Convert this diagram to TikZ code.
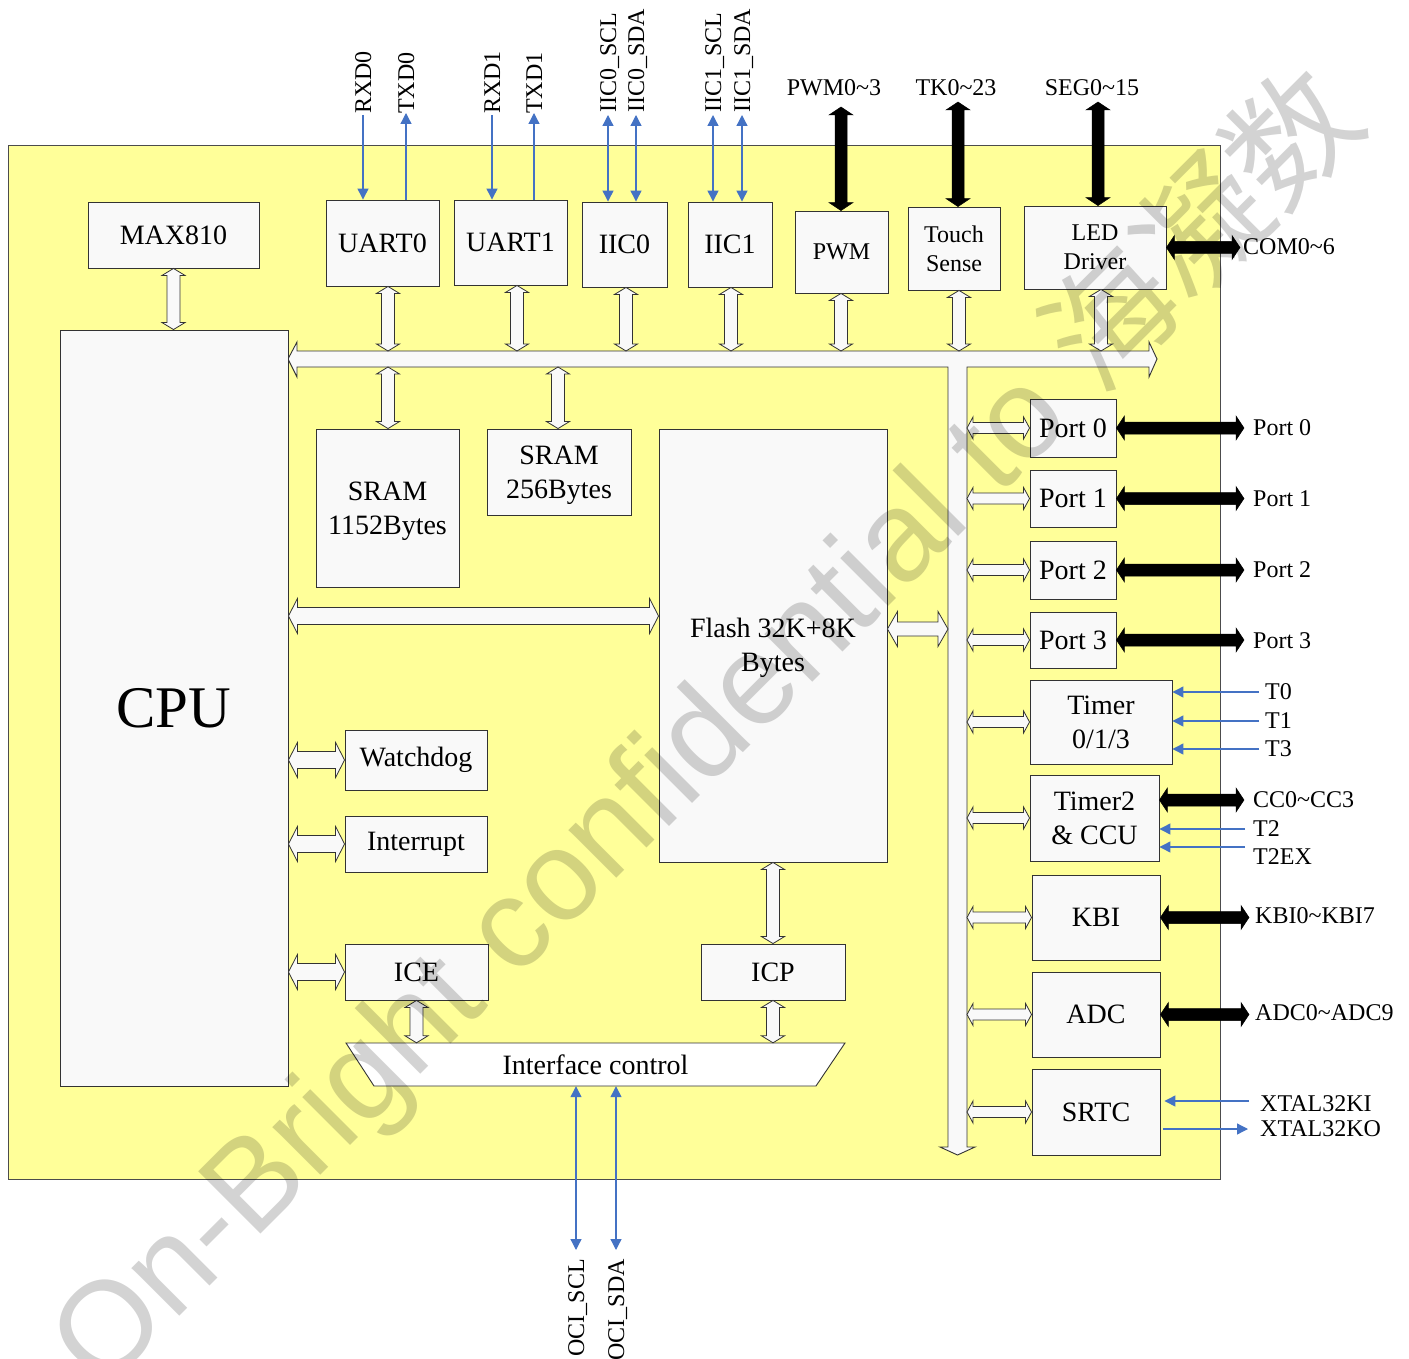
\documentclass[tikz,border=0pt]{standalone}
\usepackage{fontspec}
\setmainfont{Liberation Serif}
\newfontfamily\wmfont{Liberation Sans}
\newfontfamily\cjkfont{Noto Sans CJK SC}
\usetikzlibrary{calc,arrows.meta}
\definecolor{chip}{RGB}{255,255,153}
\definecolor{boxfill}{RGB}{249,249,249}
\definecolor{sigblue}{RGB}{68,114,196}
\definecolor{wmgray}{RGB}{211,211,211}
\def\arrw{6pt}\def\arrh{12pt}\def\arrl{8pt}
\newcommand\highstrut{\rule{0pt}{25pt}}
\tikzset{
  arrw/.store in=\arrw, arrh/.store in=\arrh, arrl/.store in=\arrl,
  blockarrow/.style={to path={
    ($(\tikztostart)!\arrl!(\tikztotarget)$) coordinate (q1)
    ($(\tikztotarget)!\arrl!(\tikztostart)$) coordinate (q2)
    (\tikztostart) -- ($(q1)!\arrh!90:(\tikztotarget)$) -- ($(q1)!\arrw!90:(\tikztotarget)$)
    -- ($(q2)!\arrw!-90:(\tikztostart)$) -- ($(q2)!\arrh!-90:(\tikztostart)$) -- (\tikztotarget)
    -- ($(q2)!\arrh!90:(\tikztostart)$) -- ($(q2)!\arrw!90:(\tikztostart)$)
    -- ($(q1)!\arrw!-90:(\tikztotarget)$) -- ($(q1)!\arrh!-90:(\tikztotarget)$) -- cycle}},
  hol/.style={blockarrow, draw=black!80, fill=boxfill, line width=0.8pt, line join=miter},
  holS/.style={hol, arrw=6.5pt, arrh=11.5pt, arrl=7pt},
  holB/.style={hol, arrw=8.5pt, arrh=17.5pt, arrl=9pt},
  holP/.style={hol, arrw=5.5pt, arrh=11pt, arrl=6pt},
  blk/.style={blockarrow, draw=black, fill=black, line width=0.5pt, arrw=6pt, arrh=12pt, arrl=8pt},
  sigtip/.tip={Triangle[length=11pt,width=11pt]},
  sig/.style={draw=sigblue, line width=1.3pt},
  box/.style={draw=black!80, fill=boxfill, line width=0.9pt, inner sep=0pt, align=center,
    font=\fontsize{28}{34}\selectfont},
  small/.style={font=\fontsize{24}{29}\selectfont},
  lab/.style={inner sep=0pt, font=\fontsize{24}{26}\selectfont},
}
\begin{document}
\begin{tikzpicture}[x=1pt,y=-1pt]
\useasboundingbox (0,0) rectangle (1409,1359);
% chip
\node[draw=black!70, fill=chip, line width=1pt, minimum width=1212pt, minimum height=1033pt, inner sep=0pt] (chip) at (614,662.5) {};
% bus
\draw[line width=0.9pt, draw=black!80, fill=boxfill, line join=miter]
  (288,359) -- (297,342) -- (297,351) -- (1149,351) -- (1149,342) -- (1157,359) -- (1149,377)
  -- (1149,367) -- (967,367) -- (967,1147) -- (975,1147) -- (957.5,1155) -- (940,1147)
  -- (948,1147) -- (948,367) -- (297,367) -- (297,377) -- cycle;
\coordinate (bt) at (0,351); \coordinate (bb) at (0,367);
\coordinate (vl) at (948,0); \coordinate (vr) at (967,0);
% boxes
\node[box, minimum width=171pt, minimum height=66pt] (max) at (173.5,235) {MAX810};
\node[box, minimum width=228pt, minimum height=756pt, font=\fontsize{59}{60}\selectfont] (cpu) at (174,708) {CPU};
\node[box, minimum width=113pt, minimum height=86pt] (uart0) at (382.5,243) {UART0};
\node[box, minimum width=113pt, minimum height=85pt] (uart1) at (510.5,242.5) {UART1};
\node[box, minimum width=85pt, minimum height=85pt] (iic0) at (624.5,244.5) {IIC0};
\node[box, minimum width=84pt, minimum height=85pt] (iic1) at (730,244.5) {IIC1};
\node[box, small, minimum width=93pt, minimum height=82pt] (pwm) at (841.5,252) {PWM};
\node[box, small, minimum width=92pt, minimum height=83pt] (touch) at (954,248.5) {Touch\\Sense};
\node[box, small, minimum width=142pt, minimum height=83pt] (led) at (1095,247.5) {LED\\Driver};
\node[box, minimum width=143pt, minimum height=158pt] (sram1) at (387.5,508) {\highstrut SRAM\\1152Bytes};
\node[box, minimum width=144pt, minimum height=86pt] (sram2) at (559,472) {\highstrut SRAM\\256Bytes};
\node[box, minimum width=228pt, minimum height=433pt] (flash) at (773,645.5) {\highstrut Flash 32K+8K\\Bytes};
\node[box, minimum width=142pt, minimum height=60pt] (wdog) at (416,760) {Watchdog};
\node[box, minimum width=142pt, minimum height=56pt] (intr) at (416,844) {Interrupt};
\node[box, minimum width=143pt, minimum height=56pt] (ice) at (416.5,972) {ICE};
\node[box, minimum width=144pt, minimum height=56pt] (icp) at (773,972) {ICP};
\node[box, minimum width=86pt, minimum height=58pt] (p0) at (1073,428) {Port 0};
\node[box, minimum width=86pt, minimum height=57pt] (p1) at (1073,498.5) {Port 1};
\node[box, minimum width=86pt, minimum height=58pt] (p2) at (1073,570) {Port 2};
\node[box, minimum width=86pt, minimum height=56pt] (p3) at (1073,640) {Port 3};
\node[box, minimum width=142pt, minimum height=84pt] (tmr) at (1101,722) {Timer\\0/1/3};
\node[box, minimum width=129pt, minimum height=86pt] (tmr2) at (1094.5,818) {Timer2\\\& CCU};
\node[box, minimum width=128pt, minimum height=85pt] (kbi) at (1096,917.5) {KBI};
\node[box, minimum width=128pt, minimum height=85pt] (adc) at (1096,1014.5) {ADC};
\node[box, minimum width=128pt, minimum height=86pt] (srtc) at (1096,1112) {SRTC};
% interface control
\draw[line width=0.9pt, draw=black!80, fill=white] (346,1043) -- (845,1043) -- (816,1086) -- (374,1086) -- cycle;
\node[inner sep=0pt, minimum width=499pt, minimum height=43pt, font=\fontsize{28}{34}\selectfont] (ifc) at (595.5,1064.5) {Interface control};
% hollow arrows, top row
\coordinate (xu0) at (388,0); \coordinate (xu1) at (517,0); \coordinate (xi0) at (626,0);
\coordinate (xi1) at (731,0); \coordinate (xpw) at (841,0); \coordinate (xts) at (959,0);
\coordinate (xld) at (1101,0); \coordinate (xs2) at (558,0);
\draw[holS] (max.south) to (max.south |- cpu.north);
\draw[holS] (uart0.south -| xu0) to (xu0 |- bt);
\draw[holS] (uart1.south -| xu1) to (xu1 |- bt);
\draw[holS] (iic0.south -| xi0) to (xi0 |- bt);
\draw[holS] (iic1.south -| xi1) to (xi1 |- bt);
\draw[holS] (pwm.south -| xpw) to (xpw |- bt);
\draw[holS] (touch.south -| xts) to (xts |- bt);
\draw[holS] (led.south -| xld) to (xld |- bt);
\draw[holS] (xu0 |- bb) to (sram1.north -| xu0);
\draw[holS] (xs2 |- bb) to (sram2.north -| xs2);
% hollow arrows, CPU side
\coordinate (yfl) at (0,616); \coordinate (yfr) at (0,629);
\draw[holB] (cpu.east |- yfl) to (flash.west |- yfl);
\draw[holB] (cpu.east |- wdog.west) to (wdog.west);
\draw[holB] (cpu.east |- intr.west) to (intr.west);
\draw[holB] (cpu.east |- ice.west) to (ice.west);
\draw[holB, arrw=7pt, arrl=10pt] (flash.east |- yfr) to (vl |- yfr);
\draw[holS] (flash.south) to (icp.north);
\draw[holS] (ice.south) to (ice.south |- ifc.north);
\draw[holS] (icp.south) to (icp.south |- ifc.north);
% hollow arrows, peripheral side
\foreach \n in {p0,p1,p2,p3,tmr,tmr2,kbi,adc,srtc}
  \draw[holP] (vr |- \n.west) to (\n.west);
% black arrows
\coordinate (pwmt) at (841,107); \coordinate (tkt) at (958,102); \coordinate (segt) at (1098,102);
\coordinate (comt) at (1240,247.5); \coordinate (xpt) at (1244,0); \coordinate (cct) at (1244,800);
\coordinate (xk) at (1249,0);
\draw[blk] (pwmt) to (pwmt |- pwm.north);
\draw[blk] (tkt) to (tkt |- touch.north);
\draw[blk] (segt) to (segt |- led.north);
\draw[blk] (led.east) to (comt);
\foreach \n in {p0,p1,p2,p3}
  \draw[blk] (\n.east) to (\n.east -| xpt);
\draw[blk] (tmr2.east |- cct) to (cct);
\draw[blk] (kbi.east) to (kbi.east -| xk);
\draw[blk] (adc.east) to (adc.east -| xk);
% blue signals, top
\coordinate (rxd0) at (363,115); \coordinate (txd0) at (406,113);
\coordinate (rxd1) at (492,115); \coordinate (txd1) at (534,113);
\coordinate (scl0) at (608,115); \coordinate (sda0) at (636,115);
\coordinate (scl1) at (713,115); \coordinate (sda1) at (742,115);
\draw[sig,-sigtip] (rxd0) -- (rxd0 |- uart0.north);
\draw[sig,-sigtip] (txd0 |- uart0.north) -- (txd0);
\draw[sig,-sigtip] (rxd1) -- (rxd1 |- uart1.north);
\draw[sig,-sigtip] (txd1 |- uart1.north) -- (txd1);
\draw[sig,sigtip-sigtip] (scl0) -- (scl0 |- iic0.north);
\draw[sig,sigtip-sigtip] (sda0) -- (sda0 |- iic0.north);
\draw[sig,sigtip-sigtip] (scl1) -- (scl1 |- iic1.north);
\draw[sig,sigtip-sigtip] (sda1) -- (sda1 |- iic1.north);
% blue signals, right
\coordinate (t0) at (1259,692); \coordinate (t1) at (1259,721); \coordinate (t3) at (1259,749);
\coordinate (t2) at (1245,829); \coordinate (t2ex) at (1245,847);
\coordinate (xki) at (1249,1101); \coordinate (xko) at (1248,1129);
\draw[sig,-sigtip] (t0) -- (t0 -| tmr.east);
\draw[sig,-sigtip] (t1) -- (t1 -| tmr.east);
\draw[sig,-sigtip] (t3) -- (t3 -| tmr.east);
\draw[sig,-sigtip] (t2) -- (t2 -| tmr2.east);
\draw[sig,-sigtip] (t2ex) -- (t2ex -| tmr2.east);
\draw[sig,-sigtip] (xki) -- ([xshift=4pt]xki -| srtc.east);
\draw[sig,-sigtip] ([xshift=3pt]xko -| srtc.east) -- (xko);
% blue signals, bottom
\coordinate (oscl) at (576,1250); \coordinate (osda) at (616,1250);
\draw[sig,sigtip-sigtip] (oscl |- ifc.south) -- (oscl);
\draw[sig,sigtip-sigtip] (osda |- ifc.south) -- (osda);
% labels
\node[lab, rotate=90, anchor=base west] (l-rxd0) at ($(rxd0)+(8,-1)$) {RXD0};
\node[lab, rotate=90, anchor=base west] (l-txd0) at ($(txd0)+(8,1)$) {TXD0};
\node[lab, rotate=90, anchor=base west] (l-rxd1) at ($(rxd1)+(8,-1)$) {RXD1};
\node[lab, rotate=90, anchor=base west] (l-txd1) at ($(txd1)+(8,1)$) {TXD1};
\node[lab, rotate=90, anchor=base west] (l-scl0) at ($(scl0)+(8,-2)$) {IIC0\_SCL};
\node[lab, rotate=90, anchor=base west] (l-sda0) at ($(sda0)+(8,-2)$) {IIC0\_SDA};
\node[lab, rotate=90, anchor=base west] (l-scl1) at ($(scl1)+(8,-2)$) {IIC1\_SCL};
\node[lab, rotate=90, anchor=base west] (l-sda1) at ($(sda1)+(8,-2)$) {IIC1\_SDA};
\node[lab, rotate=90, anchor=base east] (l-oscl) at ($(oscl)+(8,9)$) {OCI\_SCL};
\node[lab, rotate=90, anchor=base east] (l-osda) at ($(osda)+(8,9)$) {OCI\_SDA};
\node[lab] (l-pwm) at (834,88) {PWM0\textasciitilde 3};
\node[lab] (l-tk) at (956,88) {TK0\textasciitilde 23};
\node[lab] (l-seg) at (1092,88) {SEG0\textasciitilde 15};
\node[lab, anchor=west] (l-com) at (1243,247) {COM0\textasciitilde 6};
\node[lab, anchor=west] (l-p0) at (1253,428) {Port 0};
\node[lab, anchor=west] (l-p1) at (1253,499) {Port 1};
\node[lab, anchor=west] (l-p2) at (1253,570) {Port 2};
\node[lab, anchor=west] (l-p3) at (1253,641) {Port 3};
\node[lab, anchor=west] (l-t0) at (1265,692) {T0};
\node[lab, anchor=west] (l-t1) at (1265,721) {T1};
\node[lab, anchor=west] (l-t3) at (1265,749) {T3};
\node[lab, anchor=west] (l-cc) at (1253,800) {CC0\textasciitilde CC3};
\node[lab, anchor=west] (l-t2) at (1253,829) {T2};
\node[lab, anchor=west] (l-t2ex) at (1253,857) {T2EX};
\node[lab, anchor=west] (l-kbi) at (1255,916) {KBI0\textasciitilde KBI7};
\node[lab, anchor=west] (l-adc) at (1255,1013) {ADC0\textasciitilde ADC9};
\node[lab, anchor=west] (l-xki) at (1260,1104) {XTAL32KI};
\node[lab, anchor=west] (l-xko) at (1260,1129) {XTAL32KO};
% watermark
\begin{scope}[blend mode=multiply]
\node[rotate=45, text=wmgray, inner sep=0pt, font=\wmfont\fontsize{128}{131}\selectfont] (wm) at (708,730) {On-Bright confidential to {\cjkfont 海凝数}};
\end{scope}
\end{tikzpicture}
\end{document}
